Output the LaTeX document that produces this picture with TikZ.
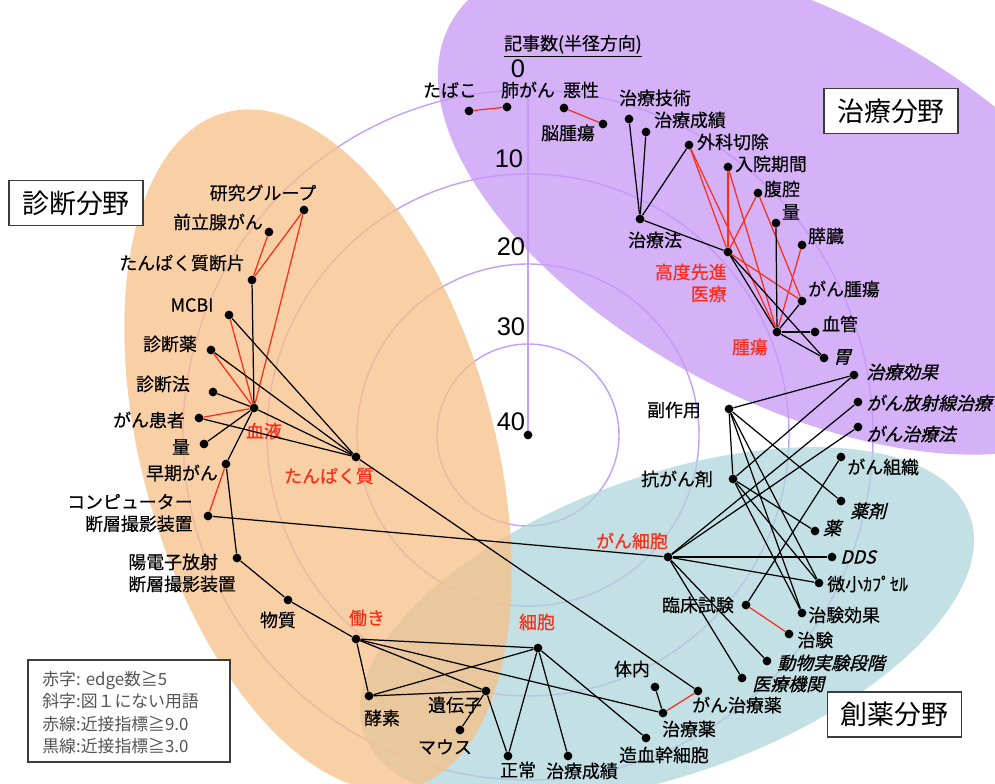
\documentclass[tikz,border=0pt]{standalone}
\usepackage{fontspec}
\setmainfont{Noto Sans CJK JP}
\newfontfamily\jplbl[FakeBold=0.4]{Noto Sans CJK JP}
\newfontfamily\jpit[FakeSlant=0.25,FakeBold=1]{Noto Sans CJK JP}
\newfontfamily\numfont{Liberation Sans}
\definecolor{rd}{RGB}{250,45,25}
\definecolor{ringc}{RGB}{195,160,245}
\definecolor{purp}{RGB}{199,152,246}
\definecolor{oran}{RGB}{248,192,135}
\definecolor{teal}{RGB}{176,214,219}
\definecolor{boxc}{RGB}{60,60,60}
\definecolor{legc}{RGB}{85,85,85}
\begin{document}
\begin{tikzpicture}[x=0.02cm,y=-0.02cm,
  dot/.style={circle,fill=black,inner sep=0pt,minimum size=0.175cm},
  lbl/.style={inner sep=0pt,font=\fontsize{10.2}{12.5}\selectfont\jplbl},
  rlbl/.style={lbl,text=rd},
  ilbl/.style={inner sep=0pt,font=\fontsize{10.2}{12.5}\selectfont\jpit},
  bl/.style={draw=black,line width=0.7pt},
  rl/.style={draw=rd,line width=0.7pt},
  ring/.style={draw=ringc,line width=0.8pt},
  fieldbox/.style={draw=boxc,fill=white,line width=0.8pt,minimum width=2.68cm,minimum height=0.9cm,inner sep=0pt,font=\fontsize{15.3}{18}\selectfont},
  axnum/.style={inner sep=0pt,font=\fontsize{14.5}{16}\selectfont\numfont}
]
\useasboundingbox (0,0) rectangle (995,784);
\fill[white] (0,0) rectangle (995,784);
% rings
\coordinate (cen) at (528,435);
\draw[ring] (cen) circle[radius=91];
\draw[ring] (cen) circle[radius=171];
\draw[ring] (cen) circle[radius=261];
\draw[ring] (cen) circle[radius=345];
\coordinate (axtop) at (528,90);
\draw[ring] (cen) -- (axtop);
% fields
\fill[teal,fill opacity=0.75,rotate around={19.9:(667,625)}] (667,625) ellipse[x radius=322,y radius=149];
\fill[oran,fill opacity=0.75,rotate around={-74.5:(318,450)}] (318,450) ellipse[x radius=350,y radius=176];
\fill[purp,fill opacity=0.75,rotate around={-28:(790,205)}] (790,205) ellipse[x radius=385,y radius=195];
% axis labels
\node[inner sep=0pt,font=\fontsize{10.2}{12.5}\selectfont\jplbl] (axtitle) at (573,46) {\underline{記事数(半径方向)}};
\node[axnum] (n0) at (518,69) {0};
\node[axnum] (n10) at (509,159) {10};
\node[axnum] (n20) at (511,247) {20};
\node[axnum] (n30) at (511,327) {30};
\node[axnum] (n40) at (511,422) {40};
\node[dot] (cdot) at (cen) {};
% boxes
\node[fieldbox] (bshin) at (76,203) {診断分野};
\node[fieldbox] (bchi) at (891,111) {治療分野};
\node[fieldbox] (bsou) at (894.5,714.5) {創薬分野};
\node[draw=boxc,line width=0.8pt,fill=white,minimum width=4.04cm,minimum height=2.04cm,inner sep=0pt] (legbox) at (129,711) {};
\node[anchor=west,align=left,inner sep=0pt,text=legc,font=\fontsize{9.6}{12.7}\selectfont] (legtxt) at (42,712.5) {赤字: edge数≧5\\斜字:図１にない用語\\赤線:近接指標≧9.0\\黒線:近接指標≧3.0};
% dots
\node[dot] (tabako) at (469,111) {};
\node[dot] (haigan) at (507,107) {};
\node[dot] (akusei) at (564,108) {};
\node[dot] (noushuyo) at (603,124) {};
\node[dot] (gijutsu) at (629,119) {};
\node[dot] (seiseki1) at (646,132) {};
\node[dot] (geka) at (689,145) {};
\node[dot] (nyuin) at (728,167) {};
\node[dot] (fukukuu) at (758,193) {};
\node[dot] (ryo1) at (776,223) {};
\node[dot] (suizo) at (802,245) {};
\node[dot] (chiryoho) at (640,219) {};
\node[dot] (kodo) at (728,252) {};
\node[dot] (ganshuyo) at (802,301) {};
\node[dot] (shuyo) at (777,332) {};
\node[dot] (kekkan) at (815,332) {};
\node[dot] (ii) at (824,358) {};
\node[dot] (koka) at (854,375) {};
\node[dot] (hosha) at (858,402) {};
\node[dot] (ganchiryoho) at (858,427) {};
\node[dot] (fukusayo) at (729,409) {};
\node[dot] (gansoshiki) at (841,457) {};
\node[dot] (kougan) at (733,479) {};
\node[dot] (yakuzai) at (841,501) {};
\node[dot] (kusuri) at (815,531) {};
\node[dot] (gansaibo) at (668,557) {};
\node[dot] (dds) at (832,557) {};
\node[dot] (bisho) at (819,583) {};
\node[dot] (rinsho) at (746,605) {};
\node[dot] (chikenkoka) at (802,613) {};
\node[dot] (chiken) at (789,634) {};
\node[dot] (dobutsu) at (767,661) {};
\node[dot] (iryokikan) at (742,678) {};
\node[dot] (gchiryoyaku) at (698,691) {};
\node[dot] (tainai) at (655,687) {};
\node[dot] (chiryoyaku) at (663,713) {};
\node[dot] (zouketsu) at (646,738) {};
\node[dot] (seiseki2) at (568,756) {};
\node[dot] (seijo) at (508,756) {};
\node[dot] (saibo) at (538,648) {};
\node[dot] (idenshi) at (486,691) {};
\node[dot] (mouse) at (460,730) {};
\node[dot] (koso) at (369,696) {};
\node[dot] (hataraki) at (356,639) {};
\node[dot] (busshitsu) at (288,600) {};
\node[dot] (yodenshi) at (237,558) {};
\node[dot] (ct) at (208,516) {};
\node[dot] (soki) at (226,464) {};
\node[dot] (ryo2) at (204,444) {};
\node[dot] (kanja) at (199,418) {};
\node[dot] (ketsueki) at (254,408) {};
\node[dot] (tanpaku) at (356,457) {};
\node[dot] (shindanho) at (213,392) {};
\node[dot] (shindanyaku) at (211,350) {};
\node[dot] (mcbi) at (229,315) {};
\node[dot] (danpen) at (252,280) {};
\node[dot] (zenritsu) at (269,232) {};
\node[dot] (kenkyu) at (304,210) {};
% labels
\node[lbl] (l-tabako) at (450,90) {たばこ};
\node[lbl] (l-haigan) at (528,90) {肺がん};
\node[lbl] (l-akusei) at (581,90) {悪性};
\node[lbl] (l-noushuyo) at (568,133) {脳腫瘍};
\node[lbl] (l-gijutsu) at (655,98) {治療技術};
\node[lbl] (l-seiseki1) at (690,120) {治療成績};
\node[lbl] (l-geka) at (733,142) {外科切除};
\node[lbl] (l-nyuin) at (771,164) {入院期間};
\node[lbl] (l-fukukuu) at (782,189) {腹腔};
\node[lbl] (l-ryo1) at (791,212) {量};
\node[lbl] (l-suizo) at (826,236) {膵臓};
\node[lbl] (l-chiryoho) at (655,240) {治療法};
\node[rlbl,anchor=east,align=right] (l-kodo) at (727,283) {高度先進\\医療};
\node[lbl] (l-ganshuyo) at (844,289) {がん腫瘍};
\node[rlbl] (l-shuyo) at (750,347) {腫瘍};
\node[lbl] (l-kekkan) at (840,324) {血管};
\node[ilbl] (l-ii) at (842,357) {胃};
\node[ilbl,anchor=west] (l-koka) at (866,372) {治療効果};
\node[ilbl,anchor=west] (l-hosha) at (866,403) {がん放射線治療};
\node[ilbl,anchor=west] (l-ganchiryoho) at (866,434) {がん治療法};
\node[lbl] (l-fukusayo) at (674,410) {副作用};
\node[lbl,anchor=west] (l-gansoshiki) at (847,467) {がん組織};
\node[lbl] (l-kougan) at (677,479) {抗がん剤};
\node[ilbl] (l-yakuzai) at (868,511) {薬剤};
\node[ilbl] (l-kusuri) at (832,528) {薬};
\node[rlbl] (l-gansaibo) at (632,541) {がん細胞};
\node[ilbl,anchor=west] (l-dds) at (840,557) {DDS};
\node[lbl,anchor=west] (l-bisho) at (827,584) {微小ｶﾌﾟｾﾙ};
\node[lbl] (l-rinsho) at (698,605) {臨床試験};
\node[lbl,anchor=west] (l-chikenkoka) at (808,615) {治験効果};
\node[lbl,anchor=west] (l-chiken) at (797,640) {治験};
\node[ilbl,anchor=west] (l-dobutsu) at (777,663) {動物実験段階};
\node[ilbl,anchor=west] (l-iryokikan) at (752,684) {医療機関};
\node[lbl] (l-gchiryoyaku) at (737,705) {がん治療薬};
\node[lbl] (l-tainai) at (632,669) {体内};
\node[lbl] (l-chiryoyaku) at (689,729) {治療薬};
\node[lbl] (l-zouketsu) at (664,755) {造血幹細胞};
\node[lbl] (l-seiseki2) at (582,771) {治療成績};
\node[lbl] (l-seijo) at (518,770) {正常};
\node[rlbl] (l-saibo) at (537,622) {細胞};
\node[lbl] (l-idenshi) at (455,705) {遺伝子};
\node[lbl] (l-mouse) at (445,747) {マウス};
\node[lbl] (l-koso) at (382,718) {酵素};
\node[rlbl] (l-hataraki) at (367,618) {働き};
\node[lbl] (l-busshitsu) at (278,620) {物質};
\node[lbl,anchor=west,align=left] (l-yodenshi) at (128,573) {陽電子放射\\断層撮影装置};
\node[lbl,anchor=east,align=right] (l-ct) at (193,513) {コンピューター\\断層撮影装置};
\node[lbl] (l-soki) at (182,473) {早期がん};
\node[lbl] (l-ryo2) at (181,447) {量};
\node[lbl] (l-kanja) at (149,420) {がん患者};
\node[rlbl] (l-ketsueki) at (264,431) {血液};
\node[rlbl] (l-tanpaku) at (329,476) {たんぱく質};
\node[lbl] (l-shindanho) at (163,384) {診断法};
\node[lbl] (l-shindanyaku) at (170,344) {診断薬};
\node[lbl] (l-mcbi) at (192,305) {MCBI};
\node[lbl] (l-danpen) at (182,263) {たんぱく質断片};
\node[lbl] (l-zenritsu) at (218,222) {前立腺がん};
\node[lbl] (l-kenkyu) at (263,193) {研究グループ};
% red edges
\foreach \a/\b in {tabako/haigan,akusei/noushuyo,geka/kodo,geka/shuyo,nyuin/kodo,nyuin/shuyo,fukukuu/kodo,fukukuu/ganshuyo,kodo/ganshuyo,suizo/shuyo,rinsho/chiken,gchiryoyaku/chiryoyaku,kenkyu/danpen,kenkyu/ketsueki,zenritsu/danpen,mcbi/ketsueki,shindanyaku/ketsueki,kanja/ketsueki,soki/ct}
  \draw[rl] (\a) -- (\b);
% black edges
\foreach \a/\b in {gijutsu/chiryoho,seiseki1/chiryoho,geka/chiryoho,chiryoho/kodo,kodo/shuyo,kodo/ii,ryo1/shuyo,shuyo/kekkan,shuyo/ii,shuyo/ganshuyo,
  fukusayo/koka,fukusayo/kougan,fukusayo/yakuzai,fukusayo/bisho,fukusayo/chikenkoka,
  kougan/koka,kougan/kusuri,kougan/bisho,kougan/chikenkoka,
  gansaibo/hosha,gansaibo/ganchiryoho,gansaibo/dds,gansaibo/bisho,gansaibo/dobutsu,gansaibo/iryokikan,gansaibo/ct,
  rinsho/gansoshiki,tainai/chiryoyaku,hataraki/chiryoyaku,tanpaku/gchiryoyaku,
  saibo/zouketsu,saibo/seiseki2,saibo/seijo,saibo/hataraki,saibo/koso,
  idenshi/seijo,idenshi/mouse,idenshi/hataraki,idenshi/koso,
  hataraki/koso,hataraki/busshitsu,busshitsu/yodenshi,yodenshi/soki,soki/ketsueki,
  ketsueki/danpen,ketsueki/shindanho,ketsueki/ryo2,ketsueki/tanpaku,mcbi/tanpaku,shindanyaku/tanpaku,kanja/tanpaku}
  \draw[bl] (\a) -- (\b);
\end{tikzpicture}
\end{document}
